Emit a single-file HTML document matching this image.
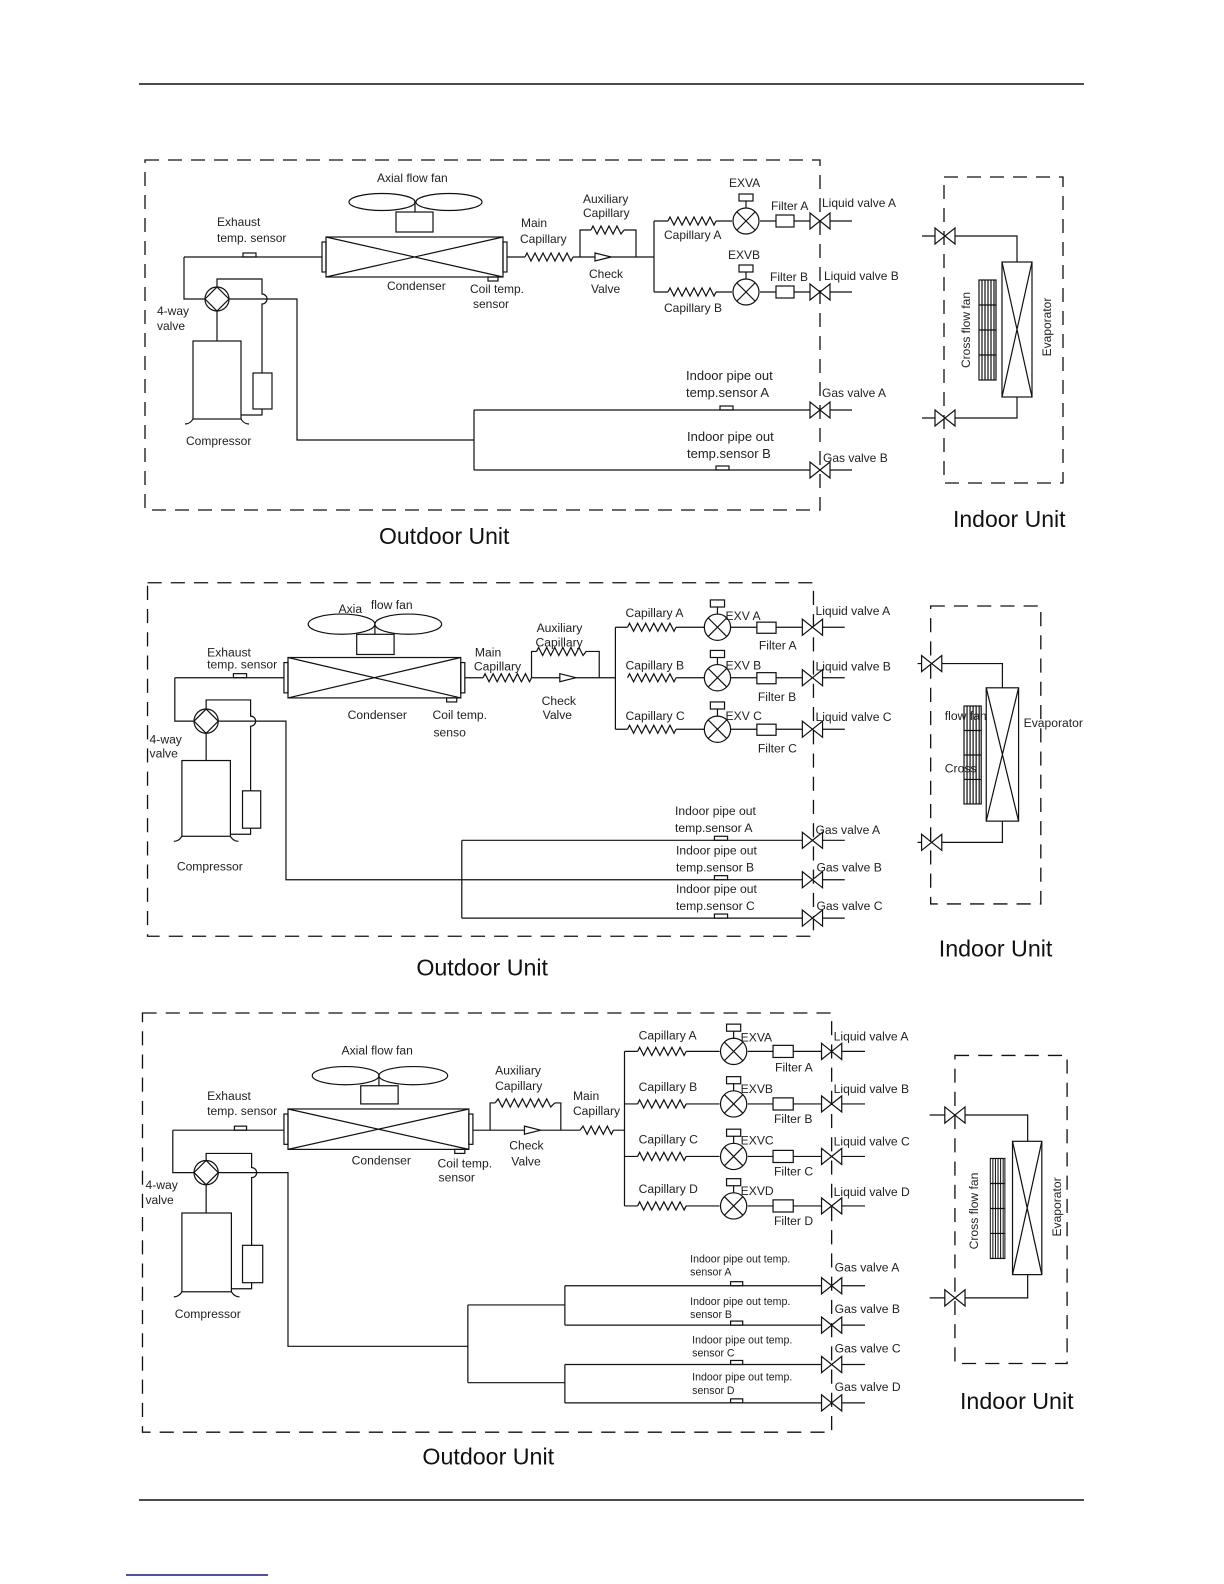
<!DOCTYPE html>
<html><head><meta charset="utf-8"><style>
html,body{margin:0;padding:0;background:#fff}
svg{display:block}
text{font-family:"Liberation Sans",Arial,sans-serif;fill:#222;stroke:none;font-size:12px}
.big{font-size:23px;fill:#111}
.sm{font-size:10.5px}
</style></head><body>
<svg width="1224" height="1584" viewBox="0 0 1224 1584" xmlns="http://www.w3.org/2000/svg" stroke="#111" stroke-width="1.2" fill="none">
<defs>
<g id="v"><path d="M-10,-8 L-10,8 L10,-8 L10,8 Z" fill="#fff"/></g>
<g id="e"><circle r="13" fill="#fff"/><path d="M-9,-9L9,9M9,-9L-9,9M0,-13V-20"/><rect x="-7" y="-27" width="14" height="7" fill="#fff"/></g>
<polyline id="z" points="0,0 2,-4 6,4 10,-4 14,4 18,-4 22,4 26,-4 30,4 34,-4 38,4 42,-4 46,4 48,0"/>
<g id="fw"><circle r="12" fill="#fff"/><path d="M0,-12L12,0L0,12L-12,0Z"/></g>
<g id="ck"><path d="M-8,-4 L8,0 L-8,4 Z" fill="#fff"/></g>
<g id="cf"><rect x="0" y="0" width="17" height="100" fill="#fff"/><path d="M3,0V100M6,0V100M9,0V100M12,0V100M15,0V100M0,25H17M0,50H17M0,75H17"/></g>
</defs>

<line x1="139" y1="84" x2="1084" y2="84" stroke-width="1.5"/>
<line x1="139" y1="1500" x2="1084" y2="1500" stroke-width="1.5"/>
<line x1="126" y1="1575" x2="268" y2="1575" stroke="#1a1a7a" stroke-width="1.5"/>

<!-- DIAGRAM 1 -->
<g>
<rect x="145" y="160" width="675" height="350" stroke-dasharray="14 9" stroke-width="1.3"/>
<ellipse cx="382" cy="202" rx="33" ry="8.5"/><ellipse cx="449" cy="202" rx="33" ry="8.5"/>
<line x1="415" y1="202" x2="415" y2="212"/><rect x="396" y="212" width="37" height="20"/>
<rect x="326" y="237" width="177" height="40"/><path d="M326,237L503,277M326,277L503,237"/>
<rect x="322" y="242" width="4" height="30"/><rect x="503" y="242" width="4" height="30"/>
<rect x="488" y="277" width="10" height="4"/>
<path d="M184,257H322M184,257V299H205"/>
<rect x="243" y="253" width="13" height="4"/>
<use href="#fw" x="217" y="299"/>
<path d="M217,287V279H262V294 A5,5 0 0 1 262,304 V373"/>
<rect x="253" y="373" width="19" height="36"/>
<path d="M262,409V415H241"/>
<path d="M229,299H297V440H474M474,410V470"/>
<path d="M217,311V341"/><rect x="193" y="341" width="48" height="78"/>
<path d="M193,419 Q190,424 185,424M241,419 Q244,424 249,424"/>
<path d="M474,410H810M830,410H852M474,470H810M830,470H852"/>
<rect x="720" y="406" width="13" height="4"/><rect x="716" y="466" width="13" height="4"/>
<use href="#v" x="820" y="410"/><use href="#v" x="820" y="470"/>
<path d="M507,257H525"/><use href="#z" x="525" y="257"/>
<path d="M573,257H654M580,257V230H591M624,230H636V257"/>
<polyline points="591,230 593,226 597,234 601,226 605,234 609,226 613,234 617,226 621,234 624,230"/>
<use href="#ck" x="603" y="257"/>
<path d="M654,221V292M654,221H668M654,292H668"/>
<use href="#z" x="668" y="221"/><use href="#z" x="668" y="292"/>
<path d="M716,221H732M760,221H776M794,221H810M830,221H852M716,292H732M760,292H776M794,292H810M830,292H852"/>
<use href="#e" x="746" y="221"/><use href="#e" x="746" y="292"/>
<rect x="776" y="215" width="18" height="12"/><rect x="776" y="286" width="18" height="12"/>
<use href="#v" x="820" y="221"/><use href="#v" x="820" y="292"/>
<rect x="944" y="177" width="119" height="306" stroke-dasharray="14 9" stroke-width="1.3"/>
<path d="M922,236H935M955,236H1017V262M922,418H935M955,418H1017V397"/>
<use href="#v" x="945" y="236"/><use href="#v" x="945" y="418"/>
<rect x="1002" y="262" width="30" height="135"/><path d="M1002,262L1032,397M1032,262L1002,397"/>
<use href="#cf" x="979" y="280"/>
<text x="377" y="182">Axial  flow fan</text>
<text x="217" y="226">Exhaust</text><text x="217" y="242">temp. sensor</text>
<text x="387" y="290">Condenser</text>
<text x="470" y="293">Coil temp.</text><text x="473" y="308">sensor</text>
<text x="521" y="227">Main</text><text x="520" y="243">Capillary</text>
<text x="583" y="203">Auxiliary</text><text x="583" y="217">Capillary</text>
<text x="589" y="278">Check</text><text x="591" y="293">Valve</text>
<text x="157" y="315">4-way</text><text x="157" y="330">valve</text>
<text x="186" y="445">Compressor</text>
<text x="729" y="187">EXVA</text><text x="664" y="239">Capillary A</text>
<text x="771" y="210">Filter A</text><text x="822" y="207">Liquid valve A</text>
<text x="728" y="259">EXVB</text><text x="770" y="281">Filter B</text>
<text x="824" y="280">Liquid valve B</text><text x="664" y="312">Capillary B</text>
<text x="686" y="380" style="font-size:13px">Indoor pipe out</text><text x="686" y="397" style="font-size:13px">temp.sensor A</text>
<text x="822" y="397">Gas valve A</text>
<text x="687" y="441" style="font-size:13px">Indoor pipe out</text><text x="687" y="458" style="font-size:13px">temp.sensor B</text>
<text x="823" y="462">Gas valve B</text>
<text transform="translate(970,330) rotate(-90)" text-anchor="middle">Cross  flow fan</text>
<text transform="translate(1051,327) rotate(-90)" text-anchor="middle">Evaporator</text>
<text class="big" x="379" y="544">Outdoor Unit</text>
<text class="big" x="953" y="527">Indoor Unit</text>
</g>

<g transform="scale(1.0105 1.01)">
<!-- Diagram 2 -->
<rect x="146" y="577" width="659" height="350" stroke-dasharray="14 9" stroke-width="1.3"/>
<ellipse cx="338" cy="618" rx="33" ry="10"/><ellipse cx="404" cy="618" rx="33" ry="10"/>
<line x1="371" y1="618" x2="371" y2="628"/><rect x="353" y="628" width="37" height="20"/>
<rect x="285" y="651" width="171" height="40"/><path d="M285,651L456,691M285,691L456,651"/>
<rect x="281" y="656" width="4" height="30"/><rect x="456" y="656" width="4" height="30"/>
<rect x="442" y="691" width="10" height="4"/>
<path d="M173,671H281M173,671V714H192"/>
<rect x="231" y="667" width="13" height="4"/>
<use href="#fw" x="204" y="714"/>
<path d="M204,702V693H248V709 A5,5 0 0 1 248,719 V783"/>
<rect x="240" y="783" width="18" height="37"/>
<path d="M248,820V826H228"/>
<path d="M216,714H283V871H794M814,871H836"/>
<path d="M204,726V753"/><rect x="180" y="753" width="48" height="75"/>
<path d="M180,828 Q177,833 172,833M228,828 Q231,833 236,833"/>
<path d="M457,832V909M457,832H794M814,832H836M457,909H794M814,909H836"/>
<rect x="707" y="828" width="13" height="4"/><rect x="707" y="867" width="13" height="4"/><rect x="707" y="905" width="13" height="4"/>
<use href="#v" x="804" y="832"/><use href="#v" x="804" y="871"/><use href="#v" x="804" y="909"/>
<path d="M460,671H478"/><use href="#z" x="478" y="671"/>
<path d="M526,671H609M526,671V645H531M582,645H593V671"/>
<polyline points="531,645 533,641 537,649 541,641 545,649 549,641 553,649 557,641 561,649 565,641 569,649 573,641 577,649 580,645 582,645"/>
<use href="#ck" x="562" y="671"/>
<path d="M609,621V722M609,621H621M609,722H621"/>
<use href="#z" x="621" y="621"/><use href="#z" x="621" y="671"/><use href="#z" x="621" y="722"/>
<path d="M669,621H697M723,621H749M768,621H794M814,621H836M669,671H697M723,671H749M768,671H794M814,671H836M669,722H697M723,722H749M768,722H794M814,722H836"/>
<use href="#e" x="710" y="621"/><use href="#e" x="710" y="671"/><use href="#e" x="710" y="722"/>
<rect x="749" y="616" width="19" height="11"/><rect x="749" y="666" width="19" height="11"/><rect x="749" y="717" width="19" height="11"/>
<use href="#v" x="804" y="621"/><use href="#v" x="804" y="671"/><use href="#v" x="804" y="722"/>
<rect x="921" y="600" width="109" height="295" stroke-dasharray="14 9" stroke-width="1.3"/>
<path d="M908,657H912M932,657H992V681M908,834H912M932,834H992V813"/>
<use href="#v" x="922" y="657"/><use href="#v" x="922" y="834"/>
<rect x="976" y="681" width="32" height="132"/><path d="M976,681L1008,813M1008,681L976,813"/>
<g transform="translate(954,699) scale(1,0.97)"><use href="#cf"/></g>
<text x="335" y="607">Axia</text><text x="367" y="603">flow fan</text>
<text x="205" y="650">Exhaust</text><text x="205" y="662">temp. sensor</text>
<text x="344" y="712">Condenser</text><text x="428" y="712">Coil temp.</text><text x="429" y="729">senso</text>
<text x="470" y="650">Main</text><text x="469" y="664">Capillary</text>
<text x="531" y="626">Auxiliary</text><text x="530" y="640">Capillary</text>
<text x="536" y="698">Check</text><text x="537" y="712">Valve</text>
<text x="148" y="736">4-way</text><text x="148" y="750">valve</text>
<text x="175" y="862">Compressor</text>
<text x="619" y="611">Capillary A</text><text x="718" y="614">EXV A</text><text x="751" y="643">Filter A</text><text x="807" y="609">Liquid valve A</text>
<text x="619" y="663">Capillary B</text><text x="718" y="663">EXV B</text><text x="750" y="694">Filter B</text><text x="807" y="664">Liquid valve B</text>
<text x="619" y="713">Capillary C</text><text x="718" y="713">EXV C</text><text x="750" y="745">Filter C</text><text x="807" y="714">Liquid valve C</text>
<text x="668" y="807">Indoor pipe out</text><text x="668" y="824">temp.sensor A</text><text x="807" y="826">Gas valve A</text>
<text x="669" y="846">Indoor pipe out</text><text x="669" y="863">temp.sensor B</text><text x="808" y="863">Gas valve B</text>
<text x="669" y="884">Indoor pipe out</text><text x="669" y="901">temp.sensor C</text><text x="808" y="901">Gas valve C</text>
<text x="935" y="713">flow fan</text><text x="935" y="765">Cross</text><text x="1013" y="720">Evaporator</text>
<text class="big" x="412" y="966">Outdoor Unit</text>
<text class="big" x="929" y="947">Indoor Unit</text>

<!-- Diagram 3 -->
<rect x="141" y="1003" width="682" height="415" stroke-dasharray="14 9" stroke-width="1.3"/>
<ellipse cx="342" cy="1065" rx="33" ry="9"/><ellipse cx="409" cy="1065" rx="34" ry="9"/>
<line x1="375" y1="1065" x2="375" y2="1075"/><rect x="357" y="1075" width="37" height="18"/>
<rect x="285" y="1098" width="179" height="40"/><path d="M285,1098L464,1138M285,1138L464,1098"/>
<rect x="281" y="1103" width="4" height="30"/><rect x="464" y="1103" width="4" height="30"/>
<rect x="450" y="1138" width="10" height="4"/>
<path d="M171,1119H281M171,1119V1161H192"/>
<rect x="232" y="1115" width="12" height="4"/>
<use href="#fw" x="204" y="1161"/>
<path d="M204,1149V1142H249V1156 A5,5 0 0 1 249,1166 V1233"/>
<rect x="240" y="1233" width="20" height="37"/>
<path d="M249,1270V1276H229"/>
<path d="M216,1161H285V1333H463M463,1292V1369M463,1292H559M463,1369H559"/>
<path d="M204,1173V1201"/><rect x="180" y="1201" width="49" height="78"/>
<path d="M180,1279 Q177,1284 172,1284M229,1279 Q232,1284 237,1284"/>
<path d="M559,1273V1312M559,1351V1389"/>
<path d="M559,1273H813M833,1273H856M559,1312H813M833,1312H856M559,1351H813M833,1351H856M559,1389H813M833,1389H856"/>
<rect x="723" y="1269" width="12" height="4"/><rect x="723" y="1308" width="12" height="4"/><rect x="723" y="1347" width="12" height="4"/><rect x="723" y="1385" width="12" height="4"/>
<use href="#v" x="823" y="1273"/><use href="#v" x="823" y="1312"/><use href="#v" x="823" y="1351"/><use href="#v" x="823" y="1389"/>
<path d="M468,1119H574M485,1119V1092H490M549,1092H555V1119M607,1119H618"/>
<polyline points="490,1092 493,1088 497,1096 501,1088 505,1096 509,1088 513,1096 517,1088 521,1096 525,1088 529,1096 533,1088 537,1096 541,1088 545,1096 549,1092"/>
<polyline points="574,1119 577,1115 581,1123 585,1115 589,1123 593,1115 597,1123 601,1115 605,1123 607,1119"/>
<use href="#ck" x="527" y="1119"/>
<path d="M618,1041V1194M618,1041H631M618,1093H631M618,1145H631M618,1194H631"/>
<use href="#z" x="631" y="1041"/><use href="#z" x="631" y="1093"/><use href="#z" x="631" y="1145"/><use href="#z" x="631" y="1194"/>
<path d="M679,1041H712M740,1041H765M785,1041H813M833,1041H856M679,1093H712M740,1093H765M785,1093H813M833,1093H856M679,1145H712M740,1145H765M785,1145H813M833,1145H856M679,1194H712M740,1194H765M785,1194H813M833,1194H856"/>
<use href="#e" x="726" y="1041"/><use href="#e" x="726" y="1093"/><use href="#e" x="726" y="1145"/><use href="#e" x="726" y="1194"/>
<rect x="765" y="1035" width="20" height="12"/><rect x="765" y="1087" width="20" height="12"/><rect x="765" y="1139" width="20" height="12"/><rect x="765" y="1188" width="20" height="12"/>
<use href="#v" x="823" y="1041"/><use href="#v" x="823" y="1093"/><use href="#v" x="823" y="1145"/><use href="#v" x="823" y="1194"/>
<rect x="945" y="1045" width="111" height="305" stroke-dasharray="14 9" stroke-width="1.3"/>
<path d="M920,1104H935M955,1104H1017V1130M920,1285H935M955,1285H1017V1262"/>
<use href="#v" x="945" y="1104"/><use href="#v" x="945" y="1285"/>
<rect x="1002" y="1130" width="29" height="132"/><path d="M1002,1130L1031,1262M1031,1130L1002,1262"/>
<g transform="translate(980,1147) scale(0.85,0.99)"><use href="#cf"/></g>
<text x="338" y="1044">Axial  flow fan</text>
<text x="205" y="1089">Exhaust</text><text x="205" y="1104">temp. sensor</text>
<text x="348" y="1153">Condenser</text><text x="433" y="1156">Coil temp.</text><text x="434" y="1170">sensor</text>
<text x="490" y="1064">Auxiliary</text><text x="490" y="1079">Capillary</text>
<text x="567" y="1089">Main</text><text x="567" y="1104">Capillary</text>
<text x="504" y="1138">Check</text><text x="506" y="1154">Valve</text>
<text x="144" y="1177">4-way</text><text x="144" y="1192">valve</text>
<text x="173" y="1305">Compressor</text>
<text x="632" y="1029">Capillary A</text><text x="733" y="1031">EXVA</text><text x="767" y="1061">Filter A</text><text x="825" y="1030">Liquid valve A</text>
<text x="632" y="1080">Capillary B</text><text x="733" y="1082">EXVB</text><text x="766" y="1112">Filter B</text><text x="825" y="1082">Liquid valve B</text>
<text x="632" y="1132">Capillary C</text><text x="733" y="1133">EXVC</text><text x="766" y="1164">Filter C</text><text x="825" y="1134">Liquid valve C</text>
<text x="632" y="1181">Capillary D</text><text x="733" y="1183">EXVD</text><text x="766" y="1213">Filter D</text><text x="825" y="1184">Liquid valve D</text>
<text class="sm" x="683" y="1250">Indoor pipe out temp.</text><text class="sm" x="683" y="1263">sensor A</text><text x="826" y="1259">Gas valve A</text>
<text class="sm" x="683" y="1292">Indoor pipe out temp.</text><text class="sm" x="683" y="1305">sensor B</text><text x="826" y="1300">Gas valve B</text>
<text class="sm" x="685" y="1330">Indoor pipe out temp.</text><text class="sm" x="685" y="1343">sensor  C</text><text x="826" y="1339">Gas valve C</text>
<text class="sm" x="685" y="1367">Indoor pipe out temp.</text><text class="sm" x="685" y="1380">sensor  D</text><text x="826" y="1377">Gas valve D</text>
<text transform="translate(968,1199) rotate(-90)" text-anchor="middle">Cross  flow fan</text>
<text transform="translate(1050,1195) rotate(-90)" text-anchor="middle">Evaporator</text>
<text class="big" x="418" y="1450">Outdoor Unit</text>
<text class="big" x="950" y="1395">Indoor Unit</text>
</g>
</svg>
</body></html>
